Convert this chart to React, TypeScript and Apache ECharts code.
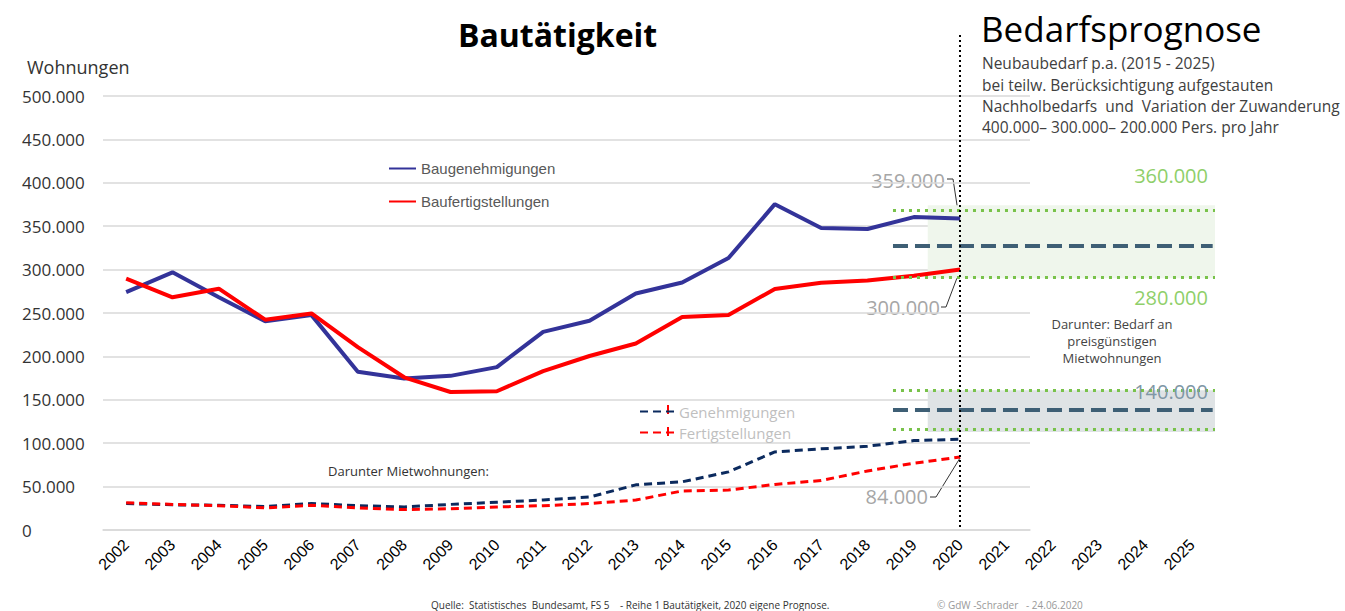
import React, { useEffect, useRef } from 'react';
import * as echarts from 'echarts';

const years = ['2002','2003','2004','2005','2006','2007','2008','2009','2010','2011','2012','2013','2014','2015','2016','2017','2018','2019','2020','2021','2022','2023','2024','2025'];
const baugenehmigungen = [274117, 296823, 268081, 240571, 247541, 182336, 174595, 177570, 187667, 228311, 241090, 272433, 285079, 313296, 375388, 347882, 346810, 360493, 359000];
const baufertigstellungen = [289590, 268103, 278008, 242316, 249436, 210739, 175927, 158987, 159832, 183110, 200466, 214817, 245325, 247722, 277691, 284816, 287352, 293002, 300000];
const mietGenehmigungen = [30500, 29000, 28500, 27000, 30500, 28000, 26500, 29500, 32000, 34500, 38000, 52000, 55500, 67000, 90000, 93500, 96500, 103000, 104500];
const mietFertigstellungen = [31500, 29500, 28000, 25500, 28500, 25500, 23500, 24500, 26500, 28000, 30500, 34500, 45000, 46000, 52500, 57000, 68000, 77000, 84000];
const yTicks = { min: 0, max: 500000, interval: 50000 };

// forecast ranges (x in band units, y in Wohnungen)
const upperBand = { from: 17.3, to: 23.5, low: 290000, high: 374000 };
const lowerBand = { from: 17.3, to: 23.5, low: 113000, high: 161000 };
const upperDotted = [368000, 291000];
const lowerDotted = [161000, 116000];
const upperDashed = 328000;
const lowerDashed = 138000;
const forecastStart = 16.55;
const currentYearIndex = 18;

const fmt = (v: number) => (v === 0 ? '0' : v.toLocaleString('de-DE'));

export default function App() {
  const ref = useRef<HTMLDivElement>(null);
  useEffect(() => {
    if (!ref.current) return;
    const chart = echarts.init(ref.current, null, { renderer: 'svg' });
    const font = '"Open Sans", "Noto Sans", sans-serif';
    const greenDot = { color: '#78c24a', width: 3, type: [3, 5] };
    const darkDash = { color: '#3e5f75', width: 4, type: [15, 7] };
    chart.setOption({
      animation: false,
      backgroundColor: '#ffffff',
      grid: [
        { left: 103, right: 315, top: 96, bottom: 81 },
        { left: 103, right: 130, top: 96, bottom: 81 },
        { left: 103, right: 130, top: 33, bottom: 84 },
      ],
      xAxis: [
        {
          type: 'category', gridIndex: 0, data: years,
          axisLine: { show: true, lineStyle: { color: '#d9d9d9', width: 1.5 } },
          axisTick: { show: false }, axisLabel: { show: false },
        },
        {
          type: 'category', gridIndex: 1, data: years, boundaryGap: true,
          axisLine: { show: false }, axisTick: { show: false },
          axisLabel: { rotate: 45, interval: 0, margin: 12, color: '#000', fontFamily: '"Liberation Sans", Arial, sans-serif', fontSize: 16 },
        },
        { type: 'value', gridIndex: 1, min: -0.5, max: 23.5, show: false, position: 'top' },
        { type: 'value', gridIndex: 2, min: -0.5, max: 23.5, show: false },
      ],
      yAxis: [
        {
          type: 'value', gridIndex: 0, ...yTicks,
          axisLine: { show: false }, axisTick: { show: false },
          splitLine: { lineStyle: { color: '#d9d9d9', width: 1.5 } },
          axisLabel: { align: 'left', margin: 81, color: '#333', fontFamily: font, fontSize: 17, formatter: fmt },
        },
        { type: 'value', gridIndex: 1, ...yTicks, show: false },
        { type: 'value', gridIndex: 2, min: 0, max: 1, show: false },
      ],
      legend: [
        {
          data: ['Baugenehmigungen', 'Baufertigstellungen'], orient: 'vertical', left: 383, top: 156,
          itemWidth: 27, itemHeight: 14, itemGap: 18, itemStyle: { opacity: 0 },
          textStyle: { color: '#595959', fontFamily: '"Liberation Sans", Arial, sans-serif', fontSize: 15 },
        },
        {
          data: ['Genehmigungen', 'Fertigstellungen'], orient: 'vertical', left: 634, top: 399,
          itemWidth: 34, itemHeight: 14, itemGap: 6, itemStyle: { opacity: 0 },
          textStyle: { color: '#bfbfbf', fontFamily: font, fontSize: 15 },
        },
      ],
      series: [
        {
          name: 'forecast', type: 'line', xAxisIndex: 2, yAxisIndex: 1, data: [], silent: true,
          markArea: {
            silent: true,
            data: [
              [{ coord: [upperBand.from, upperBand.high], itemStyle: { color: '#eff6ec' } }, { coord: [upperBand.to, upperBand.low] }],
              [{ coord: [lowerBand.from, lowerBand.high], itemStyle: { color: '#dfe3e5' } }, { coord: [lowerBand.to, lowerBand.low] }],
            ],
          },
          markLine: {
            silent: true, symbol: 'none', label: { show: false },
            data: [
              ...[...upperDotted, ...lowerDotted].map((y) => [
                { coord: [forecastStart, y], lineStyle: greenDot },
                { coord: [23.5, y] },
              ]),
              [{ coord: [forecastStart, upperDashed], lineStyle: darkDash }, { coord: [23.45, upperDashed] }],
              [{ coord: [forecastStart, lowerDashed], lineStyle: darkDash }, { coord: [23.45, lowerDashed] }],
            ],
          },
        },
        {
          name: 'current', type: 'line', xAxisIndex: 3, yAxisIndex: 2, data: [], silent: true,
          markLine: {
            silent: true, symbol: 'none', label: { show: false },
            data: [[{ coord: [currentYearIndex, 0], lineStyle: { color: '#000', width: 2, type: [2, 3] } }, { coord: [currentYearIndex, 1] }]],
          },
        },
        {
          name: 'Baugenehmigungen', type: 'line', xAxisIndex: 1, yAxisIndex: 1, data: baugenehmigungen,
          symbol: 'none', lineStyle: { color: '#333399', width: 4 }, itemStyle: { color: '#333399' }, z: 3,
        },
        {
          name: 'Baufertigstellungen', type: 'line', xAxisIndex: 1, yAxisIndex: 1, data: baufertigstellungen,
          symbol: 'none', lineStyle: { color: '#ff0000', width: 4 }, itemStyle: { color: '#ff0000' }, z: 4,
        },
        {
          name: 'Genehmigungen', type: 'line', xAxisIndex: 1, yAxisIndex: 1, data: mietGenehmigungen,
          symbol: 'none', lineStyle: { color: '#0b2a5e', width: 3, type: [8, 5] }, itemStyle: { color: '#0b2a5e' }, z: 3,
        },
        {
          name: 'Fertigstellungen', type: 'line', xAxisIndex: 1, yAxisIndex: 1, data: mietFertigstellungen,
          symbol: 'none', lineStyle: { color: '#ff0000', width: 3, type: [8, 5] }, itemStyle: { color: '#ff0000' }, z: 4,
        },
      ],
      graphic: [
        { type: 'text', x: 458, y: 34, style: { text: 'Bautätigkeit', font: `bold 32px ${font}`, fill: '#000', verticalAlign: 'middle' } },
        { type: 'text', x: 981, y: 28, style: { text: 'Bedarfsprognose', font: `500 35px ${font}`, fill: '#000', verticalAlign: 'middle' } },
        { type: 'text', x: 982, y: 63, style: { text: 'Neubaubedarf p.a. (2015 - 2025)', font: `15.5px ${font}`, fill: '#404040', verticalAlign: 'middle' } },
        { type: 'text', x: 982, y: 85, style: { text: 'bei teilw. Berücksichtigung aufgestauten', font: `15.5px ${font}`, fill: '#404040', verticalAlign: 'middle' } },
        { type: 'text', x: 982, y: 106, style: { text: 'Nachholbedarfs  und  Variation der Zuwanderung', font: `15.5px ${font}`, fill: '#404040', verticalAlign: 'middle' } },
        { type: 'text', x: 982, y: 127, style: { text: '400.000– 300.000– 200.000 Pers. pro Jahr', font: `15.5px ${font}`, fill: '#404040', verticalAlign: 'middle' } },
        { type: 'text', x: 27, y: 67, style: { text: 'Wohnungen', font: `18px ${font}`, fill: '#333', verticalAlign: 'middle' } },
        { type: 'text', x: 328, y: 471, style: { text: 'Darunter Mietwohnungen:', font: `13px ${font}`, fill: '#333', verticalAlign: 'middle' } },
        { type: 'text', x: 945, y: 180, style: { text: '359.000', font: `20px ${font}`, fill: '#a6a6a6', align: 'right', verticalAlign: 'middle' } },
        { type: 'text', x: 940, y: 307, style: { text: '300.000', font: `20px ${font}`, fill: '#a6a6a6', align: 'right', verticalAlign: 'middle' } },
        { type: 'text', x: 928, y: 496, style: { text: '84.000', font: `20px ${font}`, fill: '#a6a6a6', align: 'right', verticalAlign: 'middle' } },
        { type: 'polyline', shape: { points: [[947, 179], [953, 179], [959, 218]] }, style: { stroke: '#333', lineWidth: 1, fill: 'none' } },
        { type: 'polyline', shape: { points: [[941, 307], [946, 307], [960, 270]] }, style: { stroke: '#333', lineWidth: 1, fill: 'none' } },
        { type: 'polyline', shape: { points: [[930, 497], [936, 497], [960, 458]] }, style: { stroke: '#333', lineWidth: 1, fill: 'none' } },
        { type: 'line', shape: { x1: 668, y1: 405, x2: 668, y2: 414 }, style: { stroke: '#ff0000', lineWidth: 2 } },
        { type: 'line', shape: { x1: 668, y1: 427, x2: 668, y2: 436 }, style: { stroke: '#ff0000', lineWidth: 2 } },
        { type: 'text', x: 1208, y: 175, style: { text: '360.000', font: `20px ${font}`, fill: '#8fcf6a', align: 'right', verticalAlign: 'middle' } },
        { type: 'text', x: 1208, y: 226, style: { text: '320.000', font: `20px ${font}`, fill: '#6b8797', align: 'right', verticalAlign: 'middle' } },
        { type: 'text', x: 1208, y: 297, style: { text: '280.000', font: `20px ${font}`, fill: '#8fcf6a', align: 'right', verticalAlign: 'middle' } },
        { type: 'text', x: 1208, y: 391, z: 10, style: { text: '140.000', font: `20px ${font}`, fill: '#7f97a6', align: 'right', verticalAlign: 'middle' } },
        { type: 'text', x: 1112, y: 324, style: { text: 'Darunter: Bedarf an', font: `13px ${font}`, fill: '#444', align: 'center', verticalAlign: 'middle' } },
        { type: 'text', x: 1112, y: 341, style: { text: 'preisgünstigen', font: `13px ${font}`, fill: '#444', align: 'center', verticalAlign: 'middle' } },
        { type: 'text', x: 1112, y: 358, style: { text: 'Mietwohnungen', font: `13px ${font}`, fill: '#444', align: 'center', verticalAlign: 'middle' } },
        { type: 'text', x: 431, y: 605, style: { text: 'Quelle:  Statistisches  Bundesamt, FS 5    - Reihe 1 Bautätigkeit, 2020 eigene Prognose.', font: `10px ${font}`, fill: '#333', verticalAlign: 'middle' } },
        { type: 'text', x: 937, y: 605, style: { text: '© GdW -Schrader   - 24.06.2020', font: `10px ${font}`, fill: '#999', verticalAlign: 'middle' } },
      ],
    });
    return () => chart.dispose();
  }, []);
  return <div ref={ref} style={{ width: 1345, height: 611, position: 'absolute', left: 0, top: 0 }} />;
}
